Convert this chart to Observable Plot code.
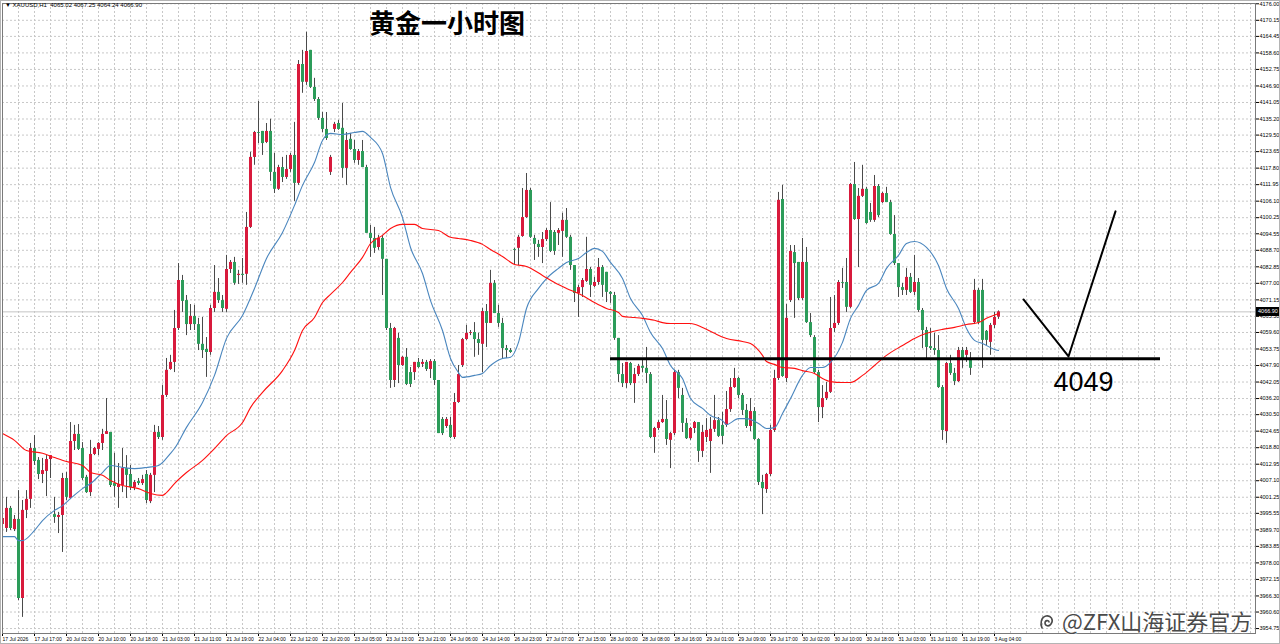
<!DOCTYPE html>
<html><head><meta charset="utf-8">
<script src="https://cdn.jsdelivr.net/npm/d3@7"></script>
<script src="https://cdn.jsdelivr.net/npm/@observablehq/plot@0.6"></script>
<style>
body{margin:0;background:#fff;}
#wrap{position:relative;width:1280px;height:644px;overflow:hidden;font-family:"Liberation Sans",Arial,sans-serif;background:#fff;}
#wrap svg.plotsvg{position:absolute;left:0;top:0;}
#wrap::after{content:"";position:absolute;left:0;top:0;right:0;bottom:0;border:1px solid #b4b4b4;pointer-events:none;}
.info{position:absolute;left:5px;top:2px;font-size:6px;color:#000;white-space:pre;}
.title{position:absolute;left:369px;top:7px;font-family:"Noto Sans CJK SC",sans-serif;font-weight:bold;font-size:26px;line-height:30px;color:#000;}
.price{position:absolute;left:1256px;top:307px;width:24px;height:9px;background:#000;color:#fff;font-size:5.5px;line-height:9px;text-align:center;}
.wm{position:absolute;left:1039px;top:609px;height:23px;display:flex;align-items:center;font-family:"Noto Sans CJK SC",sans-serif;font-size:22px;line-height:23px;color:#4a4a4a;white-space:nowrap;text-shadow:0 0 2px #fff,0 0 2px #fff,0 0 1px #fff;}
</style></head>
<body><div id="wrap"></div>
<script>
// OHLC of XAUUSD H1, bar 0 .. 249
const open = [3991.6,3990.2,3997.3,3989.8,3993.4,3965.4,3996.6,4000.5,4018.5,4014.3,4009.3,4010.4,4014.6,3995.1,3994.1,3994.8,4007.9,4000.8,4021.0,4023.5,4018.5,4008.3,4002.9,4016.4,4018.2,4020.3,4023.5,4024.2,4006.1,4004.7,4005.4,4011.4,4009.3,4004.7,4006.8,4006.1,4009.3,3999.7,4009.0,4024.2,4022.4,4037.3,4046.5,4049.0,4061.0,4078.0,4070.9,4062.4,4065.3,4062.4,4055.4,4053.6,4052.5,4068.1,4073.8,4070.9,4067.8,4081.9,4084.4,4079.8,4080.2,4080.2,4096.8,4121.6,4130.4,4130.8,4126.9,4130.8,4116.3,4110.3,4118.0,4114.5,4117.3,4122.3,4112.4,4154.5,4148.2,4159.5,4146.4,4142.1,4135.4,4131.5,4116.3,4131.5,4133.6,4131.9,4117.7,4128.0,4124.4,4120.5,4123.7,4118.0,4094.7,4092.9,4089.7,4092.9,4085.5,4061.0,4042.6,4057.5,4047.9,4050.8,4045.4,4045.4,4049.0,4048.3,4049.0,4046.5,4049.3,4042.6,4028.8,4026.3,4026.7,4022.4,4034.8,4047.9,4057.1,4059.3,4059.6,4057.1,4055.4,4067.0,4062.8,4077.0,4066.3,4062.8,4053.9,4053.2,4089.0,4089.4,4093.6,4100.3,4109.9,4092.9,4090.8,4089.7,4092.5,4095.7,4095.0,4094.7,4095.4,4099.3,4093.3,4083.3,4073.4,4075.5,4077.7,4081.9,4075.9,4077.3,4082.6,4080.9,4073.8,4072.7,4057.5,4044.7,4041.5,4048.6,4041.5,4044.7,4047.6,4046.9,4044.7,4022.4,4025.6,4027.7,4028.8,4021.4,4023.8,4045.4,4037.3,4027.4,4022.0,4025.6,4027.7,4017.5,4022.4,4021.0,4025.3,4028.4,4026.7,4026.7,4032.3,4040.1,4043.3,4037.3,4032.0,4026.3,4031.6,4021.7,4006.5,4004.0,4009.3,4024.9,4043.3,4106.7,4043.3,4070.9,4087.9,4084.4,4071.6,4084.4,4063.1,4057.8,4045.4,4033.0,4036.2,4038.4,4061.0,4062.8,4077.3,4077.3,4068.5,4112.0,4099.6,4107.8,4110.3,4102.1,4099.3,4111.3,4105.6,4108.8,4105.6,4094.3,4084.0,4075.5,4074.5,4079.1,4073.8,4077.3,4067.4,4060.3,4054.6,4053.9,4053.2,4040.1,4024.5,4048.6,4045.1,4042.2,4053.2,4051.5,4050.4,4063.1,4074.5,4074.5,4060.0,4056.1,4062.1,4065.02];
const high = [3999.0,4001.2,3998.0,3994.8,4003.6,4000.1,4003.6,4020.3,4023.1,4015.3,4015.0,4016.0,4016.0,4001.2,3995.9,4009.7,4010.0,4027.7,4026.7,4027.0,4020.6,4009.0,4021.4,4018.9,4020.6,4025.3,4036.2,4024.2,4016.8,4013.2,4018.5,4016.0,4012.5,4007.2,4007.9,4009.0,4010.7,4009.7,4026.7,4026.3,4040.8,4050.4,4051.5,4067.4,4084.0,4079.8,4072.7,4069.5,4069.2,4064.6,4064.9,4057.8,4069.2,4083.3,4078.7,4072.7,4086.9,4085.1,4086.2,4081.6,4085.8,4102.1,4123.4,4130.8,4141.4,4130.8,4133.6,4135.1,4123.0,4118.8,4121.6,4122.3,4123.0,4134.0,4155.9,4159.5,4165.9,4159.5,4149.6,4142.8,4137.5,4137.5,4122.3,4134.0,4134.7,4140.7,4130.4,4130.1,4127.6,4124.4,4127.6,4118.8,4097.5,4096.8,4094.0,4094.0,4085.5,4062.8,4061.4,4059.3,4051.1,4053.9,4047.2,4049.0,4050.4,4050.0,4049.7,4050.0,4050.0,4042.6,4029.5,4029.5,4029.5,4038.0,4047.9,4057.5,4062.1,4060.3,4063.1,4059.3,4068.1,4069.5,4081.6,4078.0,4069.2,4064.6,4055.0,4053.9,4089.4,4094.0,4110.6,4115.9,4110.6,4094.0,4092.2,4095.0,4096.4,4105.6,4095.7,4096.4,4101.8,4103.5,4094.0,4083.3,4076.3,4078.7,4093.3,4082.6,4079.1,4085.8,4083.3,4080.9,4074.1,4073.8,4057.5,4048.6,4049.0,4049.0,4046.9,4048.3,4050.4,4054.3,4045.4,4026.0,4028.4,4037.3,4035.5,4024.2,4046.2,4046.2,4039.8,4029.1,4026.0,4028.1,4027.7,4026.7,4029.1,4029.5,4037.3,4029.5,4031.3,4038.7,4043.3,4046.9,4043.7,4038.0,4034.1,4036.2,4033.0,4022.0,4009.0,4009.7,4026.7,4046.2,4109.2,4111.7,4069.5,4090.4,4090.4,4084.4,4092.9,4089.7,4066.3,4058.5,4046.2,4040.8,4041.9,4072.0,4072.7,4078.0,4082.3,4085.8,4112.4,4119.8,4110.6,4118.8,4111.0,4105.3,4115.2,4112.0,4109.2,4111.0,4106.4,4101.0,4084.0,4077.0,4082.3,4080.5,4086.9,4078.7,4068.1,4061.4,4061.0,4059.3,4058.5,4040.8,4049.0,4051.5,4046.9,4054.3,4054.3,4054.3,4052.5,4078.4,4075.2,4078.4,4060.3,4062.8,4066.7,4067.25];
const low = [3987.0,3988.8,3989.5,3989.1,3964.7,3958.7,3993.7,3997.3,4012.5,4007.5,4006.1,4001.5,4007.9,3992.0,3988.4,3981.7,4000.1,4000.5,4017.8,4017.8,4007.2,4002.6,4001.5,4016.0,4016.0,4017.8,4023.5,4004.7,4001.2,3997.3,4002.9,4000.8,4003.6,4003.6,4005.4,4005.4,3999.0,3999.0,4002.9,4021.7,4021.4,4036.6,4046.2,4045.4,4060.3,4066.7,4058.5,4060.3,4060.3,4053.2,4050.4,4043.7,4051.5,4066.7,4069.9,4066.7,4066.7,4080.5,4076.3,4076.6,4077.0,4076.3,4096.4,4118.8,4126.5,4122.3,4126.5,4113.1,4108.8,4109.9,4112.7,4113.8,4116.3,4106.0,4111.7,4144.3,4147.1,4146.0,4141.4,4134.7,4130.4,4127.6,4115.2,4130.4,4131.2,4114.2,4111.7,4124.1,4119.5,4118.8,4118.0,4094.7,4086.2,4087.6,4088.7,4072.7,4060.3,4039.8,4040.1,4041.5,4047.6,4040.8,4040.1,4042.6,4046.9,4047.2,4045.8,4043.3,4040.8,4023.8,4023.1,4025.6,4022.0,4021.7,4034.5,4047.2,4056.8,4058.5,4050.8,4051.5,4045.4,4054.3,4062.8,4066.3,4061.4,4050.4,4050.4,4052.2,4083.3,4083.3,4093.3,4100.0,4092.9,4085.1,4086.2,4084.0,4091.8,4087.9,4086.9,4090.4,4086.2,4092.9,4081.6,4070.2,4064.9,4072.0,4077.3,4072.0,4075.5,4076.3,4072.0,4070.2,4069.9,4056.8,4041.9,4040.1,4039.8,4040.8,4034.5,4044.0,4045.4,4041.5,4022.0,4016.8,4024.9,4027.4,4019.6,4011.4,4023.1,4036.2,4024.2,4021.7,4021.4,4023.8,4013.6,4015.3,4020.6,4009.7,4024.2,4022.4,4019.9,4026.0,4031.3,4039.8,4036.2,4030.2,4025.6,4024.5,4021.4,4005.4,3995.1,4002.6,4008.6,4024.2,4042.6,4043.7,4041.9,4070.2,4064.6,4070.9,4070.9,4062.8,4057.8,4045.1,4027.7,4029.1,4035.5,4038.0,4059.6,4062.1,4075.2,4066.7,4068.1,4099.3,4082.6,4107.4,4097.9,4098.6,4098.6,4100.3,4105.3,4105.6,4094.0,4083.3,4072.0,4072.7,4072.7,4073.4,4072.7,4066.7,4053.9,4049.7,4053.2,4051.5,4039.8,4021.4,4020.3,4044.4,4040.8,4041.9,4046.9,4049.0,4044.4,4062.4,4062.4,4046.9,4055.0,4051.5,4061.0,4064.24];
const close = [3993.7,3997.3,3990.2,3993.4,3965.4,3996.6,4000.5,4018.5,4013.9,4009.3,4010.7,4014.6,4016.0,3994.1,3994.8,4007.9,4001.2,4021.0,4023.5,4018.2,4007.9,4002.9,4016.4,4018.5,4020.3,4023.5,4024.5,4005.4,4005.1,4005.8,4011.4,4009.0,4004.7,4006.5,4006.1,4007.5,4000.1,4009.0,4024.2,4022.4,4037.3,4046.2,4049.0,4061.0,4078.0,4070.6,4062.4,4065.3,4062.4,4055.4,4053.2,4052.5,4068.1,4073.8,4070.9,4068.1,4081.9,4084.4,4077.0,4080.2,4079.8,4096.8,4121.6,4130.4,4130.1,4126.5,4130.8,4116.3,4110.3,4118.0,4114.5,4117.3,4122.3,4112.4,4154.5,4148.2,4159.1,4146.4,4142.1,4135.4,4131.5,4128.3,4121.6,4133.3,4131.5,4117.7,4127.6,4124.4,4120.5,4123.7,4118.0,4094.7,4092.9,4089.4,4092.9,4085.5,4061.0,4042.6,4061.0,4047.9,4050.8,4041.2,4041.2,4049.0,4047.2,4049.0,4046.5,4049.3,4042.6,4023.8,4023.8,4028.8,4022.4,4034.8,4044.7,4057.1,4059.3,4059.6,4057.1,4055.7,4067.0,4062.8,4077.0,4066.3,4062.8,4053.9,4053.2,4052.5,4088.7,4093.3,4100.3,4109.9,4093.3,4090.8,4089.7,4092.5,4095.7,4088.3,4088.3,4095.7,4099.3,4093.3,4083.3,4073.4,4075.5,4078.0,4081.9,4076.3,4077.3,4082.6,4076.3,4073.8,4073.1,4057.5,4044.7,4041.5,4049.0,4041.5,4044.7,4047.6,4046.9,4045.1,4022.4,4025.6,4027.7,4028.8,4021.7,4023.8,4045.4,4039.8,4027.4,4022.0,4025.6,4027.7,4017.5,4024.2,4024.9,4025.3,4028.4,4022.8,4022.8,4032.3,4040.1,4043.3,4037.3,4032.0,4026.3,4031.6,4021.7,4006.5,4004.3,4009.3,4024.9,4043.3,4106.4,4044.0,4064.6,4088.3,4084.0,4071.6,4084.4,4063.1,4058.5,4045.4,4033.0,4036.2,4038.4,4061.0,4062.8,4077.3,4077.0,4068.5,4112.0,4099.6,4107.8,4110.3,4098.2,4099.3,4111.3,4101.0,4108.8,4105.6,4094.3,4084.0,4075.5,4074.5,4079.1,4073.8,4077.3,4067.4,4060.3,4054.3,4053.9,4053.2,4040.1,4024.9,4048.6,4045.1,4042.2,4053.2,4050.4,4053.2,4046.9,4074.5,4063.1,4056.8,4056.8,4062.1,4064.9,4066.90];

// moving averages (bar index, value)
const blueBar = [0,3,4,5,8,10,13,15,17,20,22,25,27,30,33,36,39,42,43,46,50,53,56,60,63,66,70,73,75,78,80,82,85,88,90,92,95,97,100,102,105,107,110,112,114,115,118,120,122,125,127,129,131,134,136,139,141,144,146,148,150,152,155,157,160,162,165,167,170,172,175,177,180,181,184,186,189,191,193,195,197,200,202,205,207,210,212,214,216,219,221,224,226,228,231,234,236,239,241,243,245,248,249];
const blueVal = [3987.3,3987.3,3985.9,3985.9,3989.5,3993.0,3996.6,3998.3,4000.8,4004.3,4006.1,4010.0,4012.5,4011.8,4011.4,4011.8,4012.5,4016.8,4018.5,4026.0,4034.8,4044.4,4057.5,4065.6,4075.2,4085.8,4095.0,4104.6,4111.7,4119.8,4127.6,4130.1,4129.7,4130.4,4130.8,4128.7,4123.0,4111.0,4100.3,4089.7,4080.5,4070.9,4060.3,4050.4,4045.4,4043.7,4044.4,4045.1,4047.9,4050.4,4050.8,4056.1,4068.1,4075.2,4078.7,4082.3,4084.4,4085.8,4087.9,4089.4,4088.3,4084.4,4078.7,4071.6,4065.6,4059.6,4053.9,4047.9,4043.3,4036.2,4032.7,4030.2,4028.4,4027.0,4029.1,4029.1,4027.4,4025.6,4025.9,4030.9,4036.2,4044.4,4047.2,4047.2,4049.0,4056.1,4064.6,4069.2,4074.5,4077.0,4082.3,4086.9,4091.1,4091.8,4089.7,4083.3,4075.2,4068.1,4061.0,4056.8,4055.7,4053.6,4053.2];
const redBar = [0,3,6,10,13,16,20,22,25,27,30,34,37,40,41,43,46,50,53,56,60,62,65,70,73,75,78,80,82,85,87,90,92,95,97,100,103,105,109,112,114,117,120,122,125,128,131,135,138,141,145,148,151,154,155,158,160,163,165,167,172,175,178,181,185,187,190,191,193,195,198,200,203,205,207,210,212,215,218,221,225,228,231,235,238,241,244,246,249];
const redVal = [4023.8,4021.4,4017.8,4016.8,4015.3,4013.9,4012.5,4010.0,4009.0,4007.2,4005.4,4004.3,4002.6,4001.9,4002.9,4006.1,4010.0,4014.3,4018.5,4023.1,4027.7,4033.0,4038.4,4046.1,4053.2,4060.3,4064.9,4070.2,4073.1,4077.3,4080.9,4086.2,4091.1,4094.0,4096.4,4097.9,4097.9,4096.4,4095.7,4093.3,4092.9,4092.2,4090.8,4089.0,4086.5,4083.7,4083.0,4079.8,4077.3,4075.2,4072.7,4070.2,4068.1,4066.7,4065.3,4064.9,4064.6,4063.9,4063.1,4062.8,4062.8,4061.4,4059.3,4057.5,4056.4,4055.7,4051.5,4049.3,4048.3,4047.2,4046.9,4046.1,4045.1,4043.3,4042.2,4041.9,4041.9,4044.4,4047.9,4051.5,4055.0,4057.5,4059.3,4060.7,4061.4,4062.4,4063.1,4064.6,4066.3];

// axes
const yTicks = [4176.00,4170.15,4164.45,4158.60,4152.75,4146.90,4141.05,4135.20,4129.50,4123.65,4117.80,4111.95,4106.10,4100.25,4094.55,4088.70,4082.85,4077.00,4071.15,4065.30,4059.60,4053.75,4047.90,4042.05,4036.20,4030.50,4024.65,4018.80,4012.95,4007.10,4001.25,3995.55,3989.70,3983.85,3978.00,3972.15,3966.30,3960.60,3954.75];
const xLabels = ["17 Jul 2026","17 Jul 17:00","20 Jul 02:00","20 Jul 10:00","20 Jul 18:00","21 Jul 03:00","21 Jul 11:00","21 Jul 19:00","22 Jul 04:00","22 Jul 12:00","22 Jul 20:00","23 Jul 05:00","23 Jul 13:00","23 Jul 21:00","24 Jul 06:00","24 Jul 14:00","26 Jul 23:00","27 Jul 07:00","27 Jul 15:00","28 Jul 00:00","28 Jul 08:00","28 Jul 16:00","29 Jul 01:00","29 Jul 09:00","29 Jul 17:00","30 Jul 02:00","30 Jul 10:00","30 Jul 18:00","31 Jul 03:00","31 Jul 11:00","31 Jul 19:00","3 Aug 04:00"];
const labelStep = 8;

// annotations
const supportLevel = 4050.3;
const supportFrom = 152, supportTo = 289.5;
const supportText = "4049";
const checkBar = [255.25, 266.5, 278.25];
const checkPrice = [4071.3, 4051.1, 4102.5];
const titleText = "黄金一小时图";
const symbolText = "▼ XAUUSD,H1  4065.02 4067.25 4064.24 4066.90";
const watermark = "@ZFX山海证券官方";

const bars = open.map((o, i) => ({i, o, h: high[i], l: low[i], c: close[i]}));
const upBars = bars.filter(d => d.c >= d.o);
const downBars = bars.filter(d => d.c < d.o);
const blue = blueBar.map((b, k) => ({i: b, v: blueVal[k]}));
const red = redBar.map((b, k) => ({i: b, v: redVal[k]}));
const check = checkBar.map((b, k) => ({i: b, v: checkPrice[k]}));
const lastClose = close[close.length - 1];

const gridStroke = "#c8c8c8";
const chart = Plot.plot({
  width: 1280, height: 644,
  marginLeft: 2, marginRight: 25, marginTop: 3, marginBottom: 11,
  className: "plotsvg",
  style: {fontFamily: "'Liberation Sans', Arial, sans-serif", background: "transparent", color: "#000"},
  x: {type: "linear", domain: [0, 313.25]},
  y: {domain: [3953.0, 4176.1]},
  marks: [
    Plot.ruleX(d3.range(0, 313, 4), {stroke: gridStroke, strokeDasharray: "2,2"}),
    Plot.ruleY(yTicks, {stroke: gridStroke, strokeDasharray: "2,2"}),
    Plot.ruleY([lastClose], {stroke: "#c4c4c4"}),
    Plot.ruleX(bars, {x: "i", y1: "l", y2: "h", stroke: "#4a4a4a", strokeWidth: 1, clip: true}),
    Plot.ruleX(upBars, {x: "i", y1: "o", y2: "c", stroke: "#d81a3c", strokeWidth: 3, clip: true}),
    Plot.ruleX(downBars, {x: "i", y1: "o", y2: "c", stroke: "#2c9c5a", strokeWidth: 3, clip: true}),
    Plot.line(blue, {x: "i", y: "v", stroke: "#4a86be", strokeWidth: 1.1, curve: "monotone-x", clip: true}),
    Plot.line(red, {x: "i", y: "v", stroke: "#ff1010", strokeWidth: 1.1, curve: "monotone-x", clip: true}),
    Plot.ruleY([supportLevel], {x1: supportFrom, x2: supportTo, stroke: "#000", strokeWidth: 3}),
    Plot.line(check, {x: "i", y: "v", stroke: "#000", strokeWidth: 2}),
    Plot.text([supportText], {x: 270.25, y: 4041.9, text: d => d, fontSize: 27, fill: "#000", fontFamily: "'Liberation Sans', Arial, sans-serif"}),
    Plot.axisY(yTicks, {anchor: "right", tickSize: 3, tickPadding: 1, tickFormat: d => d.toFixed(2), fontSize: 5.5, label: null}),
    Plot.axisX(d3.range(0, xLabels.length * labelStep, labelStep), {anchor: "bottom", tickSize: 3, tickPadding: 1, tickFormat: d => xLabels[d / labelStep], textAnchor: "start", dx: 0, fontSize: 5, label: null}),
    Plot.frame({stroke: "#7a7a7a"})
  ]
});

const wrap = document.getElementById("wrap");
wrap.appendChild(chart);
const add = (cls, txt) => { const e = document.createElement("div"); e.className = cls; e.textContent = txt; wrap.appendChild(e); return e; };
add("info", symbolText);
add("title", titleText);
add("price", lastClose.toFixed(2));
const wm = document.createElement("div");
wm.className = "wm";
wm.innerHTML = '<svg width="18" height="20" viewBox="0 0 18 20" style="margin-right:5px;flex:none"><path d="M3 17 C1 13 2 6 7 5 M7 5 C12 4 15 9 12 13 C10 16 6 15 6 12 C6 9 10 9 10 11" fill="none" stroke="#4a4a4a" stroke-width="1.6" stroke-linecap="round"/></svg>';
const wt = document.createElement("span"); wt.textContent = watermark; wm.appendChild(wt);
wrap.appendChild(wm);
</script>
</body></html>
